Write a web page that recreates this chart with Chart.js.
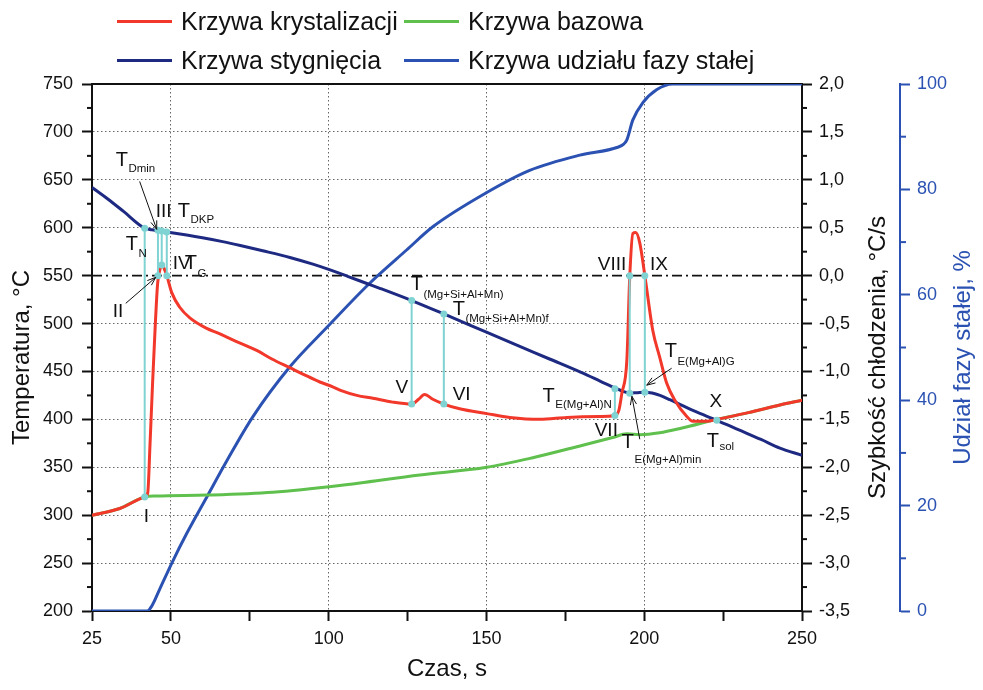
<!DOCTYPE html>
<html>
<head>
<meta charset="utf-8">
<script src="https://cdn.jsdelivr.net/npm/chart.js@4.4.1/dist/chart.umd.min.js"></script>
<style>
  html, body { margin: 0; padding: 0; background: #fff; }
  #wrap { position: relative; width: 983px; height: 690px; }
  #chart { position: absolute; left: 0; top: 0; }
  #legend { position: absolute; left: 0; top: 0; width: 983px; height: 84px;
    font-family: 'Liberation Sans', Arial, sans-serif; font-size: 25px; color: #111; }
  .item { position: absolute; height: 30px; line-height: 30px; white-space: nowrap; }
  .item .line { position: absolute; left: 0; top: 13.5px; width: 55px; height: 3px; }
  .item .txt { position: absolute; left: 64px; top: 0; }
</style>
</head>
<body>
<div id="wrap">
  <canvas id="chart" width="983" height="690"></canvas>
  <div id="legend"></div>
</div>
<script>
// czas, s
const timeCool = [25, 30, 35, 41.7, 44, 45.5, 48.7, 55, 60, 66.4, 72, 79.1, 87.7, 95, 100, 106, 112.1, 116.2, 126.3, 136.5, 150, 160, 170, 180, 186, 191.3, 193.5, 195.4, 197.5, 200.2, 202.5, 205, 208.1, 212, 216, 223, 230, 237, 243, 250];
// krzywa stygnięcia, °C
const tempCool = [642, 630, 617, 599.5, 597.8, 597, 595.5, 592.3, 589.5, 585.5, 581.5, 576, 569, 562, 556.5, 549.3, 541.8, 536.8, 524, 510, 491, 477, 463, 449, 440, 432, 429, 427.5, 427.8, 428.4, 427.5, 425, 420.5, 414.5, 408.5, 399, 389, 379, 370, 362.5];

// krzywa krystalizacji, °C/s
const timeCryst = [25, 33.8, 41.7, 42.65, 43.4, 44.2, 45, 45.8, 46.5, 47.1, 47.8, 48.7, 50.3, 52.8, 56, 61.35, 65, 69.6, 77.2, 82, 87.65, 92, 97.2, 101.3, 104, 108.9, 114, 120.3, 126.3, 128.5, 130.4, 133, 136.5, 141.5, 150.1, 157.4, 166.9, 175.5, 185.9, 190.7, 192, 192.9, 194.5, 195.4, 196.4, 197.3, 198.6, 200.2, 202.7, 204.9, 207.1, 209.7, 213.5, 215.4, 219.8, 223, 233, 243, 250];
const rateCryst = [-2.50, -2.43, -2.31, -2.27, -1.75, -1.12, -0.55, -0.08, 0.06, 0.11, 0.08, 0.0, -0.18, -0.33, -0.44, -0.55, -0.60, -0.67, -0.78, -0.87, -0.96, -1.03, -1.11, -1.16, -1.20, -1.25, -1.28, -1.32, -1.34, -1.29, -1.24, -1.29, -1.34, -1.39, -1.44, -1.48, -1.50, -1.48, -1.47, -1.46, -1.40, -1.23, -0.88, -0.02, 0.44, 0.45, 0.34, 0.0, -0.57, -0.85, -1.12, -1.30, -1.47, -1.52, -1.52, -1.50, -1.43, -1.35, -1.30];

// krzywa bazowa, °C/s
const timeBase = [25, 33.8, 41.7, 45.5, 61.35, 82.3, 103.5, 128.9, 150.1, 164.7, 180.5, 190, 194.5, 198.6, 204.9, 212, 223, 233, 243, 250];
const rateBase = [-2.50, -2.43, -2.31, -2.30, -2.29, -2.26, -2.19, -2.08, -2.00, -1.90, -1.77, -1.69, -1.65, -1.66, -1.64, -1.59, -1.50, -1.43, -1.35, -1.30];

// udział fazy stałej, %
const timeSolid = [25, 42.5, 44, 46.5, 50.3, 55, 61.35, 68, 75.9, 87.65, 99.4, 113, 124.7, 133, 150.1, 163.7, 179.6, 191.6, 193.5, 194.5, 196.4, 199.5, 203.9, 209, 250];
const fracSolid = [0, 0, 1.0, 4.2, 9.1, 14.7, 21.6, 28.8, 36.8, 46.3, 53.8, 62.2, 68.5, 72.9, 79.4, 83.6, 86.5, 88.0, 88.6, 89.4, 93.2, 96.4, 98.9, 100, 100];

// punkty charakterystyczne (°C na lewej osi)
const markTime = [41.7, 45.9, 47.1, 48.7, 126.3, 136.5, 190.7, 195.4, 200.2];
const markTop = [599.5, 597.3, 596.7, 595.5, 524, 510, 432, 550, 550];
const markBottom = [319, 550, 561, 550, 416, 416, 404, 427.3, 428.4];
const crossTime = [223];
const crossTemp = [399];
const zeroTime = [25, 250];
const zeroTemp = [550, 550];

const xTickValues = [25, 50, 75, 100, 125, 150, 175, 200, 225, 250];
const xLabels = [25, 50, 100, 150, 200, 250];
const xGrid = [50, 100, 150, 200];
const tempMinor = [225, 275, 325, 375, 425, 475, 525, 575, 625, 675, 725];
const rateMinor = [-3.25, -2.75, -2.25, -1.75, -1.25, -0.75, -0.25, 0.25, 0.75, 1.25, 1.75];
const fracMinor = [10, 30, 50, 70, 90];

const FONT = "'Liberation Sans', Arial, sans-serif";
const RED = '#f2382a', GREEN = '#5fc04e', NAVY = '#1e2a82', BLUE = '#2b52b2', CYAN = '#80d3d3';

const annotations = [
  {t: 32.5, T: 664, text: 'T', sub: 'Dmin', dy: 6},
  {t: 45.2, T: 610.8, text: 'III'},
  {t: 52.2, T: 610.8, text: 'T', sub: 'DKP', dy: 6},
  {t: 35.7, T: 576.4, text: 'T', sub: 'N', dy: 7},
  {t: 50.6, T: 556.6, text: 'IV'},
  {t: 54.4, T: 556.6, text: 'T', sub: 'G', dy: 8},
  {t: 31.6, T: 506.5, text: 'II'},
  {t: 41.4, T: 292.8, text: 'I'},
  {t: 126.0, T: 534.7, text: 'T', sub: '(Mg+Si+Al+Mn)', dy: 8},
  {t: 139.3, T: 508.6, text: 'T', sub: '(Mg+Si+Al+Mn)f', dy: 7},
  {t: 121.2, T: 427.3, text: 'V'},
  {t: 139.3, T: 420.0, text: 'VI'},
  {t: 167.8, T: 417.9, text: 'T', sub: 'E(Mg+Al)N', dy: 6},
  {t: 184.3, T: 382.4, text: 'VII'},
  {t: 192.9, T: 369.9, text: 'T', sub: 'E(Mg+Al)min', dy: 15},
  {t: 206.5, T: 464.8, text: 'T', sub: 'E(Mg+Al)G', dy: 8},
  {t: 185.3, T: 555.5, text: 'VIII'},
  {t: 201.8, T: 555.5, text: 'IX'},
  {t: 220.7, T: 412.7, text: 'X'},
  {t: 219.8, T: 371.0, text: 'T', sub: 'sol', dy: 3}
];
const arrows = [
  [40.1, 648.3, 45.5, 598.3],
  [35.7, 521.1, 45.2, 548.2],
  [198.6, 379.2, 196.1, 424.1],
  [208.7, 453.4, 200.8, 435.7]
];

const toPoints = (xs, ys) => xs.map((x, i) => ({x: x, y: ys[i]}));
const fmt = v => v.toFixed(1).replace('.', ',');

// legenda (dwa wiersze jak w oryginale)
const legendItems = [
  {label: 'Krzywa krystalizacji', color: RED, left: 117, top: 6},
  {label: 'Krzywa bazowa', color: GREEN, left: 404, top: 6},
  {label: 'Krzywa stygnięcia', color: NAVY, left: 117, top: 45},
  {label: 'Krzywa udziału fazy stałej', color: BLUE, left: 404, top: 45}
];
legendItems.forEach(it => {
  const d = document.createElement('div');
  d.className = 'item';
  d.style.left = it.left + 'px';
  d.style.top = it.top + 'px';
  d.innerHTML = `<span class="line" style="background:${it.color}"></span><span class="txt">${it.label}</span>`;
  document.getElementById('legend').appendChild(d);
});

function drawArrow(ctx, x1, y1, x2, y2) {
  const a = Math.atan2(y2 - y1, x2 - x1), h = 9;
  ctx.beginPath();
  ctx.moveTo(x1, y1);
  ctx.lineTo(x2, y2);
  ctx.moveTo(x2 - h * Math.cos(a - 0.35), y2 - h * Math.sin(a - 0.35));
  ctx.lineTo(x2, y2);
  ctx.lineTo(x2 - h * Math.cos(a + 0.35), y2 - h * Math.sin(a + 0.35));
  ctx.stroke();
}

function minorTicks(ctx, scale, values, toLeft, len, color) {
  ctx.save();
  ctx.strokeStyle = color;
  ctx.lineWidth = 2;
  values.forEach(v => {
    const y = scale.getPixelForValue(v);
    const x0 = toLeft ? scale.right : scale.left;
    ctx.beginPath();
    ctx.moveTo(x0, y);
    ctx.lineTo(toLeft ? x0 - len : x0 + len, y);
    ctx.stroke();
  });
  ctx.restore();
}

function vTitle(ctx, text, x, y, color) {
  ctx.save();
  ctx.translate(x, y);
  ctx.rotate(-Math.PI / 2);
  ctx.textAlign = 'center';
  ctx.textBaseline = 'middle';
  ctx.fillStyle = color;
  ctx.font = '24px ' + FONT;
  ctx.fillText(text, 0, 0);
  ctx.restore();
}

const extras = {
  id: 'extras',
  beforeDatasetsDraw(chart) {
    const {ctx, chartArea: a} = chart;
    ctx.save();
    ctx.strokeStyle = '#111';
    ctx.lineWidth = 2;
    ctx.beginPath();
    ctx.moveTo(a.left, a.top);
    ctx.lineTo(a.right, a.top);
    ctx.stroke();
    ctx.restore();
    minorTicks(ctx, chart.scales.y, tempMinor, true, 5, '#111');
    minorTicks(ctx, chart.scales.yRate, rateMinor, false, 5, '#111');
    minorTicks(ctx, chart.scales.yFrac, fracMinor, false, 6, BLUE);
    const mid = (a.top + a.bottom) / 2 + 10;
    vTitle(ctx, 'Temperatura, °C', chart.scales.y.left + 22, mid, '#111');
    vTitle(ctx, 'Szybkość chłodzenia, °C/s', chart.scales.yRate.left + 76, mid, '#111');
    vTitle(ctx, 'Udział fazy stałej, %', chart.scales.yFrac.left + 63, mid, BLUE);
  },
  afterDatasetsDraw(chart) {
    const {ctx} = chart;
    const sx = chart.scales.x, sy = chart.scales.y;
    ctx.save();
    ctx.fillStyle = '#111';
    ctx.textBaseline = 'alphabetic';
    annotations.forEach(an => {
      const x = sx.getPixelForValue(an.t), y = sy.getPixelForValue(an.T);
      ctx.font = (an.text === 'T' ? '20px ' : '19px ') + FONT;
      ctx.fillText(an.text, x, y);
      if (an.sub) {
        const w = ctx.measureText(an.text).width;
        ctx.font = '11.5px ' + FONT;
        ctx.fillText(an.sub, x + w + 0.5, y + an.dy);
      }
    });
    ctx.strokeStyle = '#111';
    ctx.lineWidth = 1;
    arrows.forEach(ar => {
      drawArrow(ctx, sx.getPixelForValue(ar[0]), sy.getPixelForValue(ar[1]),
        sx.getPixelForValue(ar[2]), sy.getPixelForValue(ar[3]));
    });
    ctx.restore();
  }
};

const markSets = markTime.map((t, i) => ({
  data: [{x: t, y: markTop[i]}, {x: t, y: markBottom[i]}],
  yAxisID: 'y', borderColor: CYAN, backgroundColor: CYAN, borderWidth: 2,
  pointRadius: 3.5, pointBackgroundColor: CYAN, pointBorderWidth: 0, order: 0
}));

const tickFont = {family: FONT, size: 18};

new Chart(document.getElementById('chart'), {
  type: 'line',
  data: {
    datasets: [
      ...markSets,
      {data: toPoints(crossTime, crossTemp), yAxisID: 'y', showLine: false, pointRadius: 3.5,
        pointBackgroundColor: CYAN, pointBorderWidth: 0, order: 0},
      {label: 'Krzywa krystalizacji', data: toPoints(timeCryst, rateCryst), yAxisID: 'yRate',
        borderColor: RED, borderWidth: 3, pointRadius: 0, cubicInterpolationMode: 'monotone', order: 1},
      {label: 'Krzywa stygnięcia', data: toPoints(timeCool, tempCool), yAxisID: 'y',
        borderColor: NAVY, borderWidth: 3, pointRadius: 0, cubicInterpolationMode: 'monotone', order: 2},
      {label: 'Krzywa bazowa', data: toPoints(timeBase, rateBase), yAxisID: 'yRate',
        borderColor: GREEN, borderWidth: 3, pointRadius: 0, cubicInterpolationMode: 'monotone', order: 3},
      {label: 'Krzywa udziału fazy stałej', data: toPoints(timeSolid, fracSolid), yAxisID: 'yFrac',
        borderColor: BLUE, borderWidth: 3, pointRadius: 0, cubicInterpolationMode: 'monotone', order: 4},
      {data: toPoints(zeroTime, zeroTemp), yAxisID: 'y', borderColor: '#111', borderWidth: 1.8,
        borderDash: [10, 4, 2, 4], pointRadius: 0, order: 5}
    ]
  },
  options: {
    responsive: false,
    animation: false,
    layout: {padding: {top: 84, left: 0, right: 0, bottom: 0}},
    plugins: {legend: {display: false}, tooltip: {enabled: false}},
    scales: {
      x: {
        type: 'linear', position: 'bottom', min: 25, max: 250,
        afterBuildTicks: s => { s.ticks = xTickValues.map(v => ({value: v})); },
        afterFit: s => { s.height = 79; },
        ticks: {autoSkip: false, maxRotation: 0, padding: 7, color: '#111', font: tickFont,
          callback: v => xLabels.includes(v) ? String(v) : ''},
        grid: {color: c => (c.tick && xGrid.includes(c.tick.value)) ? '#666' : 'transparent',
          lineWidth: 1, tickLength: 10, tickColor: '#111', tickWidth: 2, tickBorderDash: []},
        border: {color: '#111', width: 2, dash: [1.5, 2.5]},
        title: {display: true, text: 'Czas, s', color: '#111', font: {family: FONT, size: 24},
          padding: {top: 0, bottom: 6}}
      },
      y: {
        type: 'linear', position: 'left', min: 200, max: 750,
        ticks: {stepSize: 50, padding: 9, color: '#111', font: tickFont},
        afterFit: s => { s.width = 92; },
        grid: {color: c => {
            const v = c.tick ? c.tick.value : 0;
            return (v > 200 && v < 750 && v !== 550) ? '#666' : 'transparent';
          },
          lineWidth: 1, tickLength: 10, tickColor: '#111', tickWidth: 2, tickBorderDash: []},
        border: {color: '#111', width: 2, dash: [1.5, 2.5]}
      },
      yRate: {
        type: 'linear', position: 'right', min: -3.5, max: 2.0,
        ticks: {stepSize: 0.5, padding: 7, color: '#111', font: tickFont, callback: v => fmt(v)},
        afterFit: s => { s.width = 98; },
        grid: {drawOnChartArea: false, tickLength: 10, tickColor: '#111', tickWidth: 2},
        border: {color: '#111', width: 2}
      },
      yFrac: {
        type: 'linear', position: 'right', min: 0, max: 100,
        ticks: {stepSize: 20, padding: 7, color: BLUE, font: tickFont},
        afterFit: s => { s.width = 83; },
        grid: {drawOnChartArea: false, tickLength: 10, tickColor: BLUE, tickWidth: 2},
        border: {color: BLUE, width: 2}
      }
    }
  },
  plugins: [extras]
});
</script>
</body>
</html>
